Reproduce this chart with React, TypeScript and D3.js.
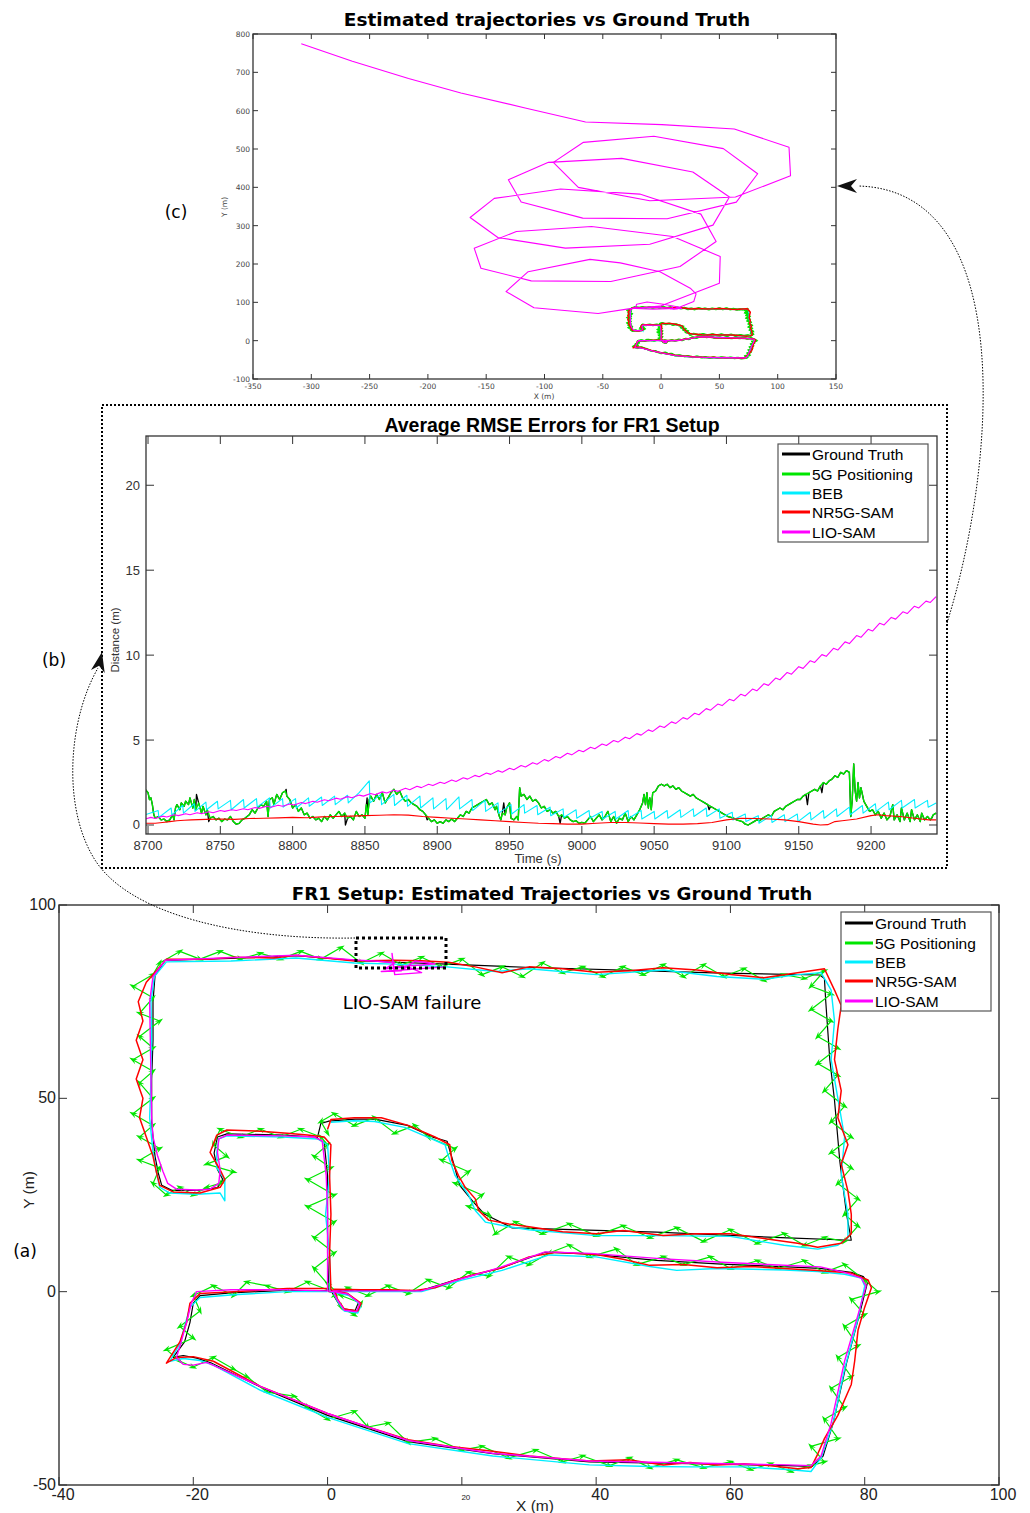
import React from 'react';
import * as d3 from 'd3';

type P = [number, number];

// ---------- Panel (a) trajectories (X m, Y m) ----------
const groundTruth: P[] = [
  [0,0.3],[-6.6,0.3],[-14.4,-0.3],[-19,-1],[-20,-3],[-20.5,-8],[-21.3,-13],[-23,-17],[-21.5,-16.5],[-19.5,-17.2],[-17.4,-18.4],
  [-9.6,-25],[0,-32],[12,-38.8],[24.6,-41.9],[39,-44],[54,-44.5],[68.5,-45],[72.2,-45.2],[73.8,-42.5],[75.3,-34],[77.3,-18.4],
  [79.2,-6],[80.4,2.3],[79.8,3.9],[78,5],[73.3,6],[68.5,6.4],[58.7,7.1],[49,8.1],[39.2,9.7],[32.4,10.2],[25.6,6],[19.7,3.4],
  [13.9,0.3],[6,0.3],[0.5,0.3],[1.2,-1.8],[2.1,-4.4],[4.1,-4.9],[4.6,-2.8],[3.1,-0.7],[0.2,0],[0,10],[0,20],[0,30],[-0.5,38.5],
  [-1.8,40],[-6.6,40.5],[-15,40.8],[-16.4,40],[-16.9,35.8],[-16.4,31.6],[-15.6,29],[-16.4,26.9],[-19.3,26.2],[-23.2,26.2],
  [-24.7,27.5],[-25.2,30.6],[-25.7,35],[-26,40],[-26.2,44],[-26.2,55],[-26,65],[-26,75],[-25.7,81.7],[-24.2,85.7],[-14.4,86.2],
  [-4.7,86.9],[4.1,85.7],[10,85.2],[17.8,84.7],[29.5,83.9],[49,82.9],[58.7,82.4],[73.3,81.9],[74,81],[74.2,75],[74.8,60],
  [75.5,49.5],[76.3,33.6],[77.3,20],[78,13.3],[68.5,13.9],[49,15.4],[27.5,16.5],[23.4,20],[21.7,23.2],[19.7,27.4],[18.7,33.6],
  [17.8,38.9],[15.8,39.9],[11.9,43],[7,44.6],[4.1,44.6],[0.2,44.1],[-1,43.5],[-1.5,39.9]
];

const fiveG: P[] = [
  [0,0.5],[-3,2.5],[-6,0],[-9,1.5],[-12,2.5],[-14,-1],[-17,1.5],[-20,-1],[-19,-5],[-22,-9],[-20,-12],[-24,-15],[-22,-18],
  [-20,-19.5],[-17,-17],[-14,-20],[-12,-22],[-9,-26],[-5,-27],[-3,-30],[0,-33],[4,-31],[6,-35],[9,-34],[12,-39],[16,-38],
  [20,-41],[23,-40],[27,-43],[31,-41],[35,-44],[38,-42.5],[42,-45],[45,-43],[48,-45.5],[52,-43.5],[56,-45.5],[60,-44],
  [63,-46],[66,-44.5],[69,-46.5],[72,-45],[74,-44],[72,-40],[76,-38],[74,-33],[77,-30],[75,-25],[78,-22],[76,-17],[79,-14],
  [77,-9],[80,-6],[78,-2],[82,0],[80,3],[77,7],[74,5],[71,8],[67,6],[64,8],[60,6],[57,9],[53,7],[50,9],[46,7],[43,11],[39,9],
  [36,12],[33,10],[30,7],[27,9],[24,4],[21,5],[18,1],[15,3],[12,-0.5],[9,1.5],[6,-1],[3,1],[1,-1],[2,-4],[4,-6],[5,-3],[2,-1],
  [0,2],[-2,6],[1,10],[-2,14],[1,18],[-3,22],[1,25],[-3,29],[0.5,32],[-2,35],[0,38],[-1,40],[-4,42],[-7,40],[-10,42],
  [-13,40],[-16,42],[-17,38],[-15,35],[-18,33],[-14,31],[-16,28],[-18,27],[-20,25],[-22,27],[-24,25],[-26,28],[-25,32],
  [-28,34],[-25,37],[-28,40],[-26,43],[-29,46],[-26,50],[-28,54],[-26,57],[-29,60],[-26,63],[-28,66],[-25,70],[-28,72],
  [-26,76],[-29,79],[-26,82],[-25,85],[-22,88],[-19,86],[-16,88],[-13,86],[-10,87.5],[-7,86],[-4,88],[-1,86],[2,89],[5,85],
  [8,87.5],[11,84.5],[14,86.5],[17,84],[20,86],[23,82],[26,84],[29,81.5],[32,85],[35,82.5],[38,84],[41,81.5],[44,84],[47,82],
  [50,84.5],[53,81.5],[56,84.5],[59,81.5],[62,83.5],[65,80.5],[68,82],[71,81],[74,83],[72,79],[75,77],[72,73],[75,70],[73,66],
  [76,63],[73,59],[76,56],[74,52],[77,48],[75,44],[78,40],[75,36],[78,32],[76,28],[79,24],[77,20],[79,17],[77,13],[74,14],
  [71,12],[68,15],[64,12.5],[60,16],[56,13],[52,16.5],[48,14],[44,17],[40,14.5],[36,17.5],[32,15],[28,18],[25,15],[24,20],
  [21,22],[23,25],[19,28],[21,31],[17,34],[19,37],[15,40],[13,43],[10,41],[7,45],[4,43],[1,46],[-1,44],[0,41]
];

const beb: P[] = [
  [0,0],[-6,0],[-14,-0.8],[-19,-1.5],[-20.5,-4],[-21.3,-9],[-22,-13.5],[-23.5,-18],[-21.5,-17.3],[-19,-17.8],[-17,-19],
  [-10,-25.5],[0,-32.5],[12,-39.3],[24.6,-42.5],[39,-44.8],[48,-45.2],[54,-45.3],[62,-45.3],[68.5,-46],[72,-46.5],[73.5,-43],
  [75.3,-34],[77,-20],[79,-7],[80,1.5],[79.5,3.5],[77,4.5],[73,5.2],[68,5.6],[58,6],[52,5.5],[48,6.5],[40,9],[33,9.5],
  [26,5.5],[20,3],[14,0],[6,0],[0.8,0],[1.5,-2.5],[2.5,-5],[4.5,-5.5],[5,-3.5],[3.2,-1],[0.4,0],[0.3,10],[-0.3,20],[0.3,30],
  [0,38],[-1.5,39.5],[-6.6,40],[-15,40.3],[-16.2,39.5],[-16.5,36],[-16.5,32],[-15.3,29],[-15.3,23.5],[-16,25.5],[-19.5,25.2],
  [-23.5,25.5],[-25,27],[-25.5,31],[-26,36],[-26.5,45],[-26.3,55],[-26.2,65],[-26.3,75],[-25.8,81.5],[-24,85.3],[-14.4,85.5],
  [-4.7,86.3],[4,85],[10,84.7],[17.8,84],[25,82.8],[30,83.5],[40,82],[50,83.2],[58,81.5],[65,80.8],[70,82],[73.5,82.5],
  [75,78],[75.5,70],[75,60],[76,50],[77,40],[76.5,30],[77.5,20],[77.5,14],[76,12],[73,11],[68,12],[60,14.3],[49,14.5],
  [40,14.5],[30,16],[27,16.8],[23.5,18],[22,21],[21,25],[19,30],[18,35],[17.5,38],[15.5,39.5],[11.5,42.5],[7,44],[4,44.2],
  [0.5,43.8]
];

const nr5gSam: P[] = [
  [0,0.8],[-6,0.8],[-14,0],[-19,-0.5],[-20.5,-3],[-21,-8],[-22,-13],[-24,-18.5],[-22.5,-17],[-20,-16.8],[-17,-18],[-10,-24.5],
  [-5,-28],[0,-31.5],[6,-35],[12,-38.3],[18,-40],[24.6,-41.3],[30,-42.5],[39,-43.8],[45,-43.5],[50,-44.8],[54,-44.2],
  [58,-44.8],[62,-44.5],[66,-45],[70,-45.8],[72,-45.5],[73,-42],[74,-38],[76,-32],[78,-24],[78.5,-18],[79,-10],[80,-4],
  [81,1],[80.5,3],[78,4.8],[73,5.5],[68,6],[63,6.5],[58,6.2],[53,7],[48,6.8],[44,8.4],[40,9.6],[34,10.2],[30,9],[26,6.2],
  [22,4.5],[19,3],[16,1],[13,0.3],[9,0.5],[5,0.5],[1,0.6],[1.5,-2],[2.5,-4.5],[4.5,-5],[5,-3],[3,-0.5],[0.5,0.5],[0.3,10],
  [0.5,20],[0.3,30],[0.5,38],[-0.5,40],[-3,40.5],[-6,41],[-10,41.5],[-15,41.8],[-16.5,40.5],[-17.5,36],[-16,31.5],[-15.3,29],
  [-16,27],[-19,25.5],[-23,25.8],[-25,27.5],[-25.5,31],[-26,35],[-27,40],[-28,45],[-27.5,50],[-28.5,55],[-27.5,60],[-28.5,65],
  [-27.5,70],[-28.2,75],[-27,80],[-25.5,83],[-24,86],[-18,86],[-14,86.5],[-8,86.3],[-4.7,87],[0,86.2],[4,85.5],[10,85.7],
  [14,85.6],[18,85.2],[22,84],[26,82.5],[30,84],[35,83.5],[40,82.6],[45,83],[50,83.8],[55,83.2],[60,82],[65,81.2],[70,82.5],
  [74,83.5],[75.5,78],[76.5,74],[76,68],[75.5,60],[76.5,52],[76,45],[77.5,38],[76.5,33],[77.5,26],[78,20],[78,15],[76.5,12.5],
  [73,11.5],[70,12.5],[66,13.5],[60,15],[55,15],[50,14.5],[44,15.8],[40,15],[35,15.5],[30,16.8],[27,17.5],[24,18.5],[22.5,21],
  [22,24],[20.5,27],[19.5,30],[18.5,34],[18.2,38],[16,40],[12,43],[8,45],[4,45],[0.5,44.5],[0,42]
];

const lioSamLocal: P[] = [
  [0,0.2],[-6.6,0.5],[-14.4,0.5],[-19.5,0],[-20.3,-3],[-21,-8],[-21.8,-13],[-22.5,-17],[-21.5,-18.8],[-20,-19],[-18,-18.3],
  [-9.6,-24.8],[0,-31.5],[12,-38.5],[24.6,-41.8],[39,-43.8],[54,-44.3],[68.5,-44.8],[72,-45],[73.5,-42.5],[75,-34],[77,-18],
  [79,-6],[80.2,1.5],[79.5,3.5],[77,5],[73.4,6.4],[58.7,7.6],[49,8.6],[39.2,9.9],[32.4,10.3],[25.6,6.2],[19.7,3.2],[13.9,0.2],
  [6,0.2],[0.8,0.2],[1.5,-2.2],[2.5,-4.8],[4.3,-5.2],[4.8,-3],[3,-0.6],[0,0.2],[0,10],[0,20],[-0.2,30],[-0.8,39],[-2,40],
  [-6.6,40.3],[-15,40.5],[-16.2,39.5],[-16.4,36],[-16,31.5],[-16.2,28],[-17.5,26.5],[-19.5,26.3],[-22.5,26.5],[-23.8,28],
  [-24.5,31],[-25.3,35],[-26,40],[-26.2,45],[-26.3,55],[-26.4,65],[-26.5,75],[-26,81.5],[-24.2,85.7],[-14.4,86.4],[-4.7,87],
  [4,85.8],[8,85.4],[10,85],[8.5,83.5],[12,84],[14,82.5],[10,82],[9.6,87.5],[9.8,84],[14,84.5],[16,84.8],[13,85.5],[11,83],
  [8,82.8],[17.5,84]
];

// ---------- Panel (c): LIO-SAM drift after failure ----------
const lioSamDrift: P[] = [
  [17.5,84],[16,87],[2,95],[-12,101],[-21,95],[-22,84],[-7,82],[13,84],[28,102],[30,122],[25,137],[-1,180],[-35,203],
  [-61,212],[-114,180],[-133,128],[-109,86],[-54,71],[-28,83],[-1,90],[50,150],[50.7,219.5],[10,271.8],[-59.7,297.9],
  [-124.1,284.8],[-160.3,241.3],[-154.5,189],[-111.4,155.9],[-43.1,154.2],[16.2,193.4],[47.2,258.7],[34.1,330.1],
  [-18.3,382.4],[-86.2,395.5],[-143.1,371.1],[-163.8,321.4],[-140,269.2],[-82.1,241.3],[-9.7,251.7],[44.5,301.4],
  [58.6,374.6],[27.2,439.9],[-33.8,475.6],[-96.6,465.2],[-131,419.9],[-120,361.5],[-67.2,319.7],[5.2,318],[64.5,361.5],
  [82.8,435.5],[53.4,500.9],[-6.2,533.1],[-66.6,517.4],[-92.4,465.2],[-71,399.8],[-9.7,365],[63.8,374.6],[111,430.3],
  [109.7,504.4],[62.8,552.3],[0.7,563.6],[-64.8,570.6],[-116.6,607.1],[-171.7,646.3],[-216.6,683.8],[-264.8,729],
  [-308.6,774.4]
];

// ---------- Panel (b): errors over time (s, m) ----------
const fiveGErr: P[] = [
  [8698,2.1],[8700,1.9],[8701,1.5],[8702,1.6],[8703,1.2],[8704,0.6],[8705,0.4],[8707,0.5],[8709,0.3],[8711,0.35],[8713,0.2],
  [8715,0.3],[8717,0.6],[8718,0.3],[8719,1.0],[8720,1.2],[8722,0.9],[8723,1.3],[8725,1.1],[8726,1.4],[8728,1.2],[8729,1.6],
  [8731,1.0],[8732,1.5],[8733,0.9],[8735,1.3],[8737,0.7],[8738,1.1],[8740,0.6],[8741,0.9],[8743,0.4],[8745,0.5],[8747,0.3],
  [8749,0.4],[8751,0.2],[8753,0.35],[8755,0.3],[8757,0.5],[8759,0.2],[8761,0.05],[8763,0.1],[8765,0.3],[8767,0.4],[8770,0.6],
  [8772,0.9],[8774,0.7],[8776,1.0],[8778,1.2],[8780,1.1],[8782,1.4],[8783,0.5],[8784,1.5],[8786,1.6],[8787,1.2],[8789,1.8],
  [8791,1.5],[8793,1.9],[8795,2.0],[8796,1.7],[8798,1.5],[8800,1.0],[8802,1.2],[8804,0.8],[8806,1.0],[8808,0.6],[8810,0.7],
  [8812,0.4],[8814,0.5],[8816,0.3],[8818,0.4],[8820,0.2],[8822,0.5],[8824,0.3],[8826,0.6],[8828,0.4],[8830,0.6],[8832,0.8],
  [8834,0.5],[8836,0.7],[8838,0.4],[8840,0.5],[8842,0.3],[8844,0.8],[8846,0.5],[8848,0.6],[8850,0.4],[8851,1.2],[8852,0.6],
  [8853,1.5],[8854,1.7],[8856,1.4],[8858,1.8],[8860,1.5],[8862,1.9],[8864,1.3],[8866,1.6],[8868,1.9],[8870,2.1],[8872,1.8],
  [8874,2.0],[8876,1.6],[8878,1.4],[8880,1.5],[8882,1.3],[8884,1.2],[8886,1.1],[8888,0.9],[8890,0.8],[8892,0.6],[8894,0.4],
  [8896,0.2],[8898,0.3],[8900,0.1],[8902,0.2],[8904,0.1],[8906,0.3],[8908,0.2],[8910,0.35],[8912,0.2],[8914,0.4],[8916,0.6],
  [8918,0.5],[8920,0.8],[8922,0.7],[8924,1.0],[8926,1.1],[8928,1.2],[8930,1.3],[8932,1.4],[8934,1.5],[8936,1.2],[8938,1.3],
  [8940,0.9],[8941,1.1],[8943,0.5],[8944,0.3],[8945,0.7],[8947,0.6],[8948,1.0],[8950,1.3],[8951,0.4],[8953,0.3],[8955,0.5],
  [8956,0.3],[8957,2.2],[8958,1.7],[8960,1.8],[8962,1.5],[8964,1.7],[8966,1.4],[8968,1.5],[8970,1.3],[8972,1.0],[8974,1.1],
  [8976,0.8],[8978,0.9],[8980,0.7],[8982,0.8],[8984,0.5],[8986,0.6],[8988,0.4],[8990,0.5],[8992,0.3],[8994,0.2],[8996,0.25],
  [8998,0.1],[9000,0.15],[9002,0.1],[9004,0.3],[9006,0.5],[9008,0.2],[9010,0.4],[9012,0.6],[9014,0.3],[9016,0.5],[9018,0.8],
  [9020,0.2],[9022,0.5],[9024,0.1],[9026,0.4],[9028,0.3],[9030,0.7],[9032,0.2],[9034,0.5],[9036,0.3],[9038,0.6],[9040,0.9],
  [9042,1.3],[9043,1.8],[9044,1.2],[9045,1.9],[9046,1.0],[9047,1.6],[9048,0.9],[9049,1.9],[9051,2.0],[9053,2.3],[9055,2.4],
  [9057,2.3],[9059,2.4],[9061,2.2],[9063,2.3],[9065,2.1],[9067,2.2],[9069,2.0],[9071,1.9],[9073,1.8],[9075,1.7],[9077,1.8],
  [9079,1.6],[9081,1.5],[9083,1.4],[9085,1.3],[9087,1.2],[9089,1.1],[9091,1.0],[9093,0.9],[9095,0.8],[9097,0.7],[9099,0.6],
  [9101,0.5],[9103,0.45],[9105,0.4],[9107,0.3],[9109,0.25],[9111,0.2],[9113,0.05],[9115,0.0],[9117,0.1],[9119,0.2],[9121,0.3],
  [9123,0.25],[9125,0.4],[9127,0.5],[9129,0.6],[9131,0.5],[9133,0.8],[9135,0.9],[9137,1.0],[9139,0.9],[9141,1.1],[9143,1.2],
  [9145,1.3],[9147,1.4],[9149,1.5],[9151,1.5],[9153,1.7],[9155,1.8],[9157,1.9],[9159,2.0],[9161,2.1],[9163,2.0],[9165,2.3],
  [9167,2.5],[9169,2.4],[9171,2.6],[9173,2.7],[9175,2.9],[9177,2.8],[9179,3.1],[9181,3.0],[9183,3.2],[9185,3.1],[9186,0.5],
  [9187,1.5],[9188,3.6],[9189,2.0],[9190,1.4],[9191,2.5],[9192,1.6],[9193,2.2],[9195,1.4],[9197,1.1],[9199,0.8],[9201,0.9],
  [9203,0.6],[9205,0.8],[9207,0.4],[9209,0.7],[9211,0.3],[9213,0.5],[9215,1.2],[9216,0.3],[9218,0.6],[9220,0.2],[9221,1.0],
  [9223,0.3],[9225,0.7],[9227,0.2],[9228,0.9],[9230,0.3],[9232,0.6],[9234,0.2],[9235,0.7],[9237,0.3],[9239,0.5],[9241,0.3],
  [9243,0.6],[9245,0.7]
];

const groundTruthSpikes: P[] = [
  [8733.5,1.8],[8742,0.2],[8795.5,2.1],[8836.5,0.0],[8851.5,1.6],[8893,0.3],[8946,1.3],[8985,0.1],[9046.5,1.4],
  [9088,0.9],[9156,1.2],[9166,1.9],[9242,0.4]
];

const bebErr: P[] = [
  [8698,0.6],[8707,0.85],[8707.5,0.45],[8716,1.0],[8716.5,0.6],[8724,1.15],[8724.5,0.7],[8732,1.25],[8732.5,0.8],[8740,1.35],
  [8740.5,0.9],[8748,1.4],[8748.5,0.95],[8757,1.45],[8757.5,0.9],[8766,1.5],[8766.5,1.0],[8775,1.55],[8775.5,1.05],[8784,1.6],
  [8784.5,1.0],[8793,1.55],[8793.5,1.05],[8802,1.55],[8802.5,1.0],[8811,1.6],[8811.5,1.1],[8820,1.65],[8820.5,1.15],
  [8829,1.7],[8829.5,1.2],[8838,1.75],[8838.5,1.3],[8846,1.9],[8853,2.6],[8853.5,1.3],[8861,1.8],[8861.5,1.2],[8870,1.8],
  [8870.5,1.15],[8879,1.75],[8879.5,1.1],[8888,1.7],[8888.5,1.0],[8897,1.6],[8897.5,0.95],[8906,1.55],[8906.5,0.9],
  [8915,1.65],[8915.5,0.95],[8924,1.5],[8924.5,0.85],[8933,1.45],[8933.5,0.8],[8942,1.3],[8942.5,0.7],[8951,1.2],
  [8951.5,0.65],[8960,1.2],[8960.5,0.7],[8969,1.15],[8969.5,0.6],[8978,1.05],[8978.5,0.55],[8987,0.95],[8987.5,0.45],
  [8996,0.9],[8996.5,0.4],[9005,0.85],[9005.5,0.4],[9014,0.8],[9014.5,0.35],[9023,0.8],[9023.5,0.35],[9032,0.85],
  [9032.5,0.4],[9041,0.85],[9041.5,0.35],[9050,0.8],[9050.5,0.35],[9059,0.85],[9059.5,0.4],[9068,0.9],[9068.5,0.45],
  [9077,0.95],[9077.5,0.5],[9086,1.0],[9086.5,0.5],[9095,0.95],[9095.5,0.4],[9104,0.75],[9104.5,0.3],[9113,0.65],
  [9113.5,0.2],[9122,0.55],[9122.5,0.1],[9131,0.55],[9131.5,0.15],[9140,0.6],[9140.5,0.2],[9149,0.65],[9149.5,0.2],
  [9158,0.75],[9158.5,0.3],[9167,0.85],[9167.5,0.4],[9176,0.95],[9176.5,0.5],[9185,1.05],[9185.5,0.6],[9194,1.15],
  [9194.5,0.7],[9203,1.25],[9203.5,0.8],[9212,1.35],[9212.5,0.9],[9221,1.45],[9221.5,1.0],[9230,1.5],[9230.5,1.0],
  [9239,1.45],[9239.5,1.05],[9245,1.3]
];

const nr5gErr: P[] = [
  [8698,0.1],[8705,0.1],[8710,0.15],[8715,0.2],[8720,0.25],[8725,0.28],[8730,0.3],[8740,0.33],[8750,0.35],[8760,0.33],
  [8770,0.38],[8780,0.4],[8790,0.42],[8800,0.45],[8810,0.43],[8820,0.48],[8830,0.5],[8840,0.52],[8850,0.55],[8860,0.57],
  [8870,0.6],[8880,0.58],[8890,0.5],[8900,0.45],[8910,0.4],[8920,0.35],[8930,0.3],[8940,0.25],[8950,0.2],[8960,0.15],
  [8970,0.1],[8980,0.08],[8990,0.05],[9000,0.05],[9010,0.1],[9020,0.15],[9030,0.15],[9040,0.12],[9050,0.08],[9060,0.05],
  [9070,0.05],[9080,0.08],[9090,0.15],[9100,0.3],[9110,0.4],[9120,0.38],[9130,0.35],[9140,0.3],[9150,0.2],[9160,0.05],
  [9165,0.0],[9170,0.02],[9175,0.2],[9180,0.25],[9190,0.35],[9200,0.55],[9205,0.6],[9210,0.55],[9220,0.5],[9230,0.4],
  [9240,0.3],[9245,0.3]
];

const lioSamErr: P[] = [
  [8698,0.35],[8702,0.45],[8705,0.38],[8710,0.52],[8713,0.47],[8718,0.6],[8721,0.55],[8726,0.66],[8729,0.6],[8734,0.72],
  [8737,0.66],[8742,0.78],[8745,0.72],[8750,0.85],[8753,0.8],[8758,0.9],[8761,0.85],[8766,0.96],[8769,0.9],[8774,1.03],
  [8777,0.98],[8782,1.1],[8785,1.04],[8790,1.16],[8793,1.1],[8798,1.24],[8801,1.18],[8806,1.32],[8809,1.26],[8814,1.4],
  [8817,1.34],[8822,1.49],[8825,1.43],[8830,1.58],[8833,1.52],[8838,1.67],[8841,1.6],[8846,1.76],[8849,1.7],[8854,1.85],
  [8857,1.78],[8862,1.95],[8865,1.88],[8870,2.05],[8873,1.98],[8878,2.16],[8881,2.08],[8886,2.28],[8889,2.2],[8894,2.4],
  [8897,2.32],[8902,2.52],[8905,2.44],[8910,2.65],[8913,2.56],[8918,2.78],[8921,2.7],[8926,2.92],[8929,2.84],[8934,3.06],
  [8937,2.98],[8942,3.2],[8945,3.11],[8950,3.34],[8953,3.25],[8958,3.5],[8961,3.41],[8966,3.67],[8969,3.58],[8974,3.85],
  [8977,3.76],[8982,4.03],[8985,3.94],[8990,4.22],[8993,4.13],[8998,4.4],[9001,4.31],[9006,4.58],[9009,4.49],[9014,4.77],
  [9017,4.68],[9022,4.97],[9025,4.88],[9030,5.17],[9033,5.08],[9038,5.38],[9041,5.29],[9046,5.6],[9049,5.51],[9054,5.83],
  [9057,5.74],[9062,6.07],[9065,5.98],[9070,6.32],[9073,6.23],[9078,6.58],[9081,6.49],[9086,6.85],[9089,6.76],[9094,7.12],
  [9097,7.03],[9102,7.4],[9105,7.31],[9110,7.7],[9113,7.6],[9118,8.0],[9121,7.9],[9126,8.32],[9129,8.22],[9134,8.65],
  [9137,8.55],[9142,8.98],[9145,8.88],[9150,9.32],[9153,9.22],[9158,9.67],[9161,9.57],[9166,10.03],[9169,9.93],[9174,10.4],
  [9177,10.3],[9182,10.78],[9185,10.68],[9190,11.15],[9193,11.05],[9198,11.52],[9201,11.42],[9206,11.88],[9209,11.78],
  [9214,12.22],[9217,12.12],[9222,12.55],[9225,12.45],[9230,12.88],[9233,12.78],[9238,13.18],[9241,13.1],[9245,13.45]
];

// ---------- Ticks & labels ----------
const seriesNames = ['Ground Truth', '5G Positioning', 'BEB', 'NR5G-SAM', 'LIO-SAM'];
const seriesColors = ['#000000', '#00e600', '#00eeff', '#ff0000', '#ff00ff'];
const xTicksA = [-40, -20, 0, 20, 40, 60, 80, 100];
const yTicksA = [-50, 0, 50, 100];
const xTicksB = [8700, 8750, 8800, 8850, 8900, 8950, 9000, 9050, 9100, 9150, 9200];
const yTicksB = [0, 5, 10, 15, 20];
const xTicksC = [-350, -300, -250, -200, -150, -100, -50, 0, 50, 100, 150];
const yTicksC = [-100, 0, 100, 200, 300, 400, 500, 600, 700, 800];

const SANS = 'Liberation Sans, Arial, sans-serif';
const DJ = 'DejaVu Sans, sans-serif';

function Markers({ pts, xs, ys, size, color }: { pts: P[]; xs: any; ys: any; size: number; color: string }) {
  return (
    <g fill={color}>
      {pts.map((p, i) => {
        if (i === 0) return null;
        const q = pts[i - 1];
        const a = (Math.atan2(ys(p[1]) - ys(q[1]), xs(p[0]) - xs(q[0])) * 180) / Math.PI;
        return (
          <path key={i} transform={`translate(${xs(p[0])},${ys(p[1])}) rotate(${a})`}
            d={`M${size},0L${-size},${-size * 0.65}L${-size * 0.3},0L${-size},${size * 0.65}Z`} />
        );
      })}
    </g>
  );
}

function Legend({ x, y, w, h, rowY }: { x: number; y: number; w: number; h: number; rowY: number[] }) {
  return (
    <g>
      <rect x={x} y={y} width={w} height={h} fill="#fff" stroke="#555" strokeWidth={1.2} />
      {seriesNames.map((n, i) => (
        <g key={n}>
          <line x1={x + 4} x2={x + 32} y1={rowY[i]} y2={rowY[i]} stroke={seriesColors[i]} strokeWidth={3} />
          <text x={x + 34} y={rowY[i] + 5.5} fontFamily={SANS} fontSize={15.5} fill="#000">{n}</text>
        </g>
      ))}
    </g>
  );
}

function Arrowhead({ x, y, angle }: { x: number; y: number; angle: number }) {
  return (
    <path transform={`translate(${x},${y}) rotate(${angle})`} d="M0,0L-20,-7L-14,0L-20,7Z" fill="#111" />
  );
}

export default function App() {
  // Panel (a)
  const xA = d3.scaleLinear().domain([-40, 100]).range([59, 999]);
  const yA = d3.scaleLinear().domain([-50, 100]).range([1485, 905]);
  const lineA = d3.line<P>().x((d) => xA(d[0])).y((d) => yA(d[1]));

  // Panel (b)
  const xB = d3.scaleLinear().domain([8698.6, 9245.6]).range([146, 937]);
  const yB = d3.scaleLinear().domain([-0.53, 22.9]).range([834, 436]);
  const lineB = d3.line<P>().x((d) => xB(d[0])).y((d) => yB(d[1]));
  const groundTruthErr = [...fiveGErr, ...groundTruthSpikes].sort((a, b) => a[0] - b[0]);

  // Panel (c)
  const xC = d3.scaleLinear().domain([-350, 150]).range([253, 836]);
  const yC = d3.scaleLinear().domain([-100, 800]).range([379, 34]);
  const lineC = d3.line<P>().x((d) => xC(d[0])).y((d) => yC(d[1]));
  const lioSamFull = [...lioSamLocal, ...lioSamDrift];

  const axisColor = '#333';

  return (
    <svg width={1030} height={1513} style={{ position: 'absolute', left: 0, top: 0, background: '#fff' }}>
      <defs>
        <clipPath id="clipA"><rect x={59} y={905} width={940} height={580} /></clipPath>
        <clipPath id="clipB"><rect x={146} y={436} width={791} height={398} /></clipPath>
        <clipPath id="clipC"><rect x={253} y={34} width={583} height={345} /></clipPath>
      </defs>
      <rect x={0} y={0} width={1030} height={1513} fill="#fff" />

      {/* ================= Panel (c) ================= */}
      <text x={547} y={26} textAnchor="middle" fontFamily={DJ} fontWeight="bold" fontSize={18.5}>Estimated trajectories vs Ground Truth</text>
      <g clipPath="url(#clipC)" fill="none" strokeLinejoin="round">
        <path d={lineC(groundTruth) || ''} stroke={seriesColors[0]} strokeWidth={1} />
        <path d={lineC(fiveG) || ''} stroke={seriesColors[1]} strokeWidth={2} />
        <Markers pts={fiveG} xs={xC} ys={yC} size={1.8} color={seriesColors[1]} />
        <path d={lineC(beb) || ''} stroke={seriesColors[2]} strokeWidth={1} />
        <path d={lineC(nr5gSam) || ''} stroke={seriesColors[3]} strokeWidth={1.5} />
        <path d={lineC(lioSamFull) || ''} stroke={seriesColors[4]} strokeWidth={1.1} />
      </g>
      <rect x={253} y={34} width={583} height={345} fill="none" stroke={axisColor} strokeWidth={1.3} />
      {xTicksC.map((t) => (
        <g key={t}>
          <line x1={xC(t)} x2={xC(t)} y1={379} y2={374} stroke={axisColor} />
          <line x1={xC(t)} x2={xC(t)} y1={34} y2={39} stroke={axisColor} />
          <text x={xC(t)} y={389} textAnchor="middle" fontFamily={DJ} fontSize={7.5} fill="#444">{t}</text>
        </g>
      ))}
      {yTicksC.map((t) => (
        <g key={t}>
          <line x1={253} x2={258} y1={yC(t)} y2={yC(t)} stroke={axisColor} />
          <line x1={836} x2={831} y1={yC(t)} y2={yC(t)} stroke={axisColor} />
          <text x={250} y={yC(t) + 3} textAnchor="end" fontFamily={DJ} fontSize={7.5} fill="#444">{t}</text>
        </g>
      ))}
      <text x={544} y={399} textAnchor="middle" fontFamily={DJ} fontSize={7.5} fill="#444">X (m)</text>
      <text transform="translate(227,207) rotate(-90)" textAnchor="middle" fontFamily={DJ} fontSize={7.5} fill="#444">Y (m)</text>
      <text x={176} y={218} textAnchor="middle" fontFamily={DJ} fontSize={17}>(c)</text>

      {/* ================= Panel (b) ================= */}
      <rect x={102} y={405} width={845} height={463} fill="none" stroke="#000" strokeWidth={2} strokeDasharray="2,2" />
      <text x={552} y={432} textAnchor="middle" fontFamily={SANS} fontWeight="bold" fontSize={19.5}>Average RMSE Errors for FR1 Setup</text>
      <g clipPath="url(#clipB)" fill="none" strokeLinejoin="round">
        <path d={lineB(groundTruthErr) || ''} stroke={seriesColors[0]} strokeWidth={1.3} />
        <path d={lineB(fiveGErr) || ''} stroke={seriesColors[1]} strokeWidth={1.4} />
        <path d={lineB(bebErr) || ''} stroke={seriesColors[2]} strokeWidth={1.1} />
        <path d={lineB(nr5gErr) || ''} stroke={seriesColors[3]} strokeWidth={1.1} />
        <path d={lineB(lioSamErr) || ''} stroke={seriesColors[4]} strokeWidth={1.1} />
      </g>
      <rect x={146} y={436} width={791} height={398} fill="none" stroke={axisColor} strokeWidth={1.3} />
      {xTicksB.map((t) => (
        <g key={t}>
          <line x1={xB(t)} x2={xB(t)} y1={834} y2={826} stroke={axisColor} />
          <line x1={xB(t)} x2={xB(t)} y1={436} y2={444} stroke={axisColor} />
          <text x={xB(t)} y={850} textAnchor="middle" fontFamily={SANS} fontSize={13} fill="#333">{t}</text>
        </g>
      ))}
      {yTicksB.map((t) => (
        <g key={t}>
          <line x1={146} x2={154} y1={yB(t)} y2={yB(t)} stroke={axisColor} />
          <line x1={937} x2={929} y1={yB(t)} y2={yB(t)} stroke={axisColor} />
          <text x={140} y={yB(t) + 4.5} textAnchor="end" fontFamily={SANS} fontSize={13} fill="#333">{t}</text>
        </g>
      ))}
      <text x={538} y={863} textAnchor="middle" fontFamily={SANS} fontSize={13} fill="#333">Time (s)</text>
      <text transform="translate(119,640) rotate(-90)" textAnchor="middle" fontFamily={SANS} fontSize={11.5} fill="#333">Distance (m)</text>
      <Legend x={778} y={444} w={150} h={98} rowY={[454, 474, 493, 512, 532]} />
      <text x={54} y={666} textAnchor="middle" fontFamily={DJ} fontSize={17}>(b)</text>

      {/* ================= Panel (a) ================= */}
      <text x={552} y={900} textAnchor="middle" fontFamily={DJ} fontWeight="bold" fontSize={18.2}>FR1 Setup: Estimated Trajectories vs Ground Truth</text>
      <g clipPath="url(#clipA)" fill="none" strokeLinejoin="round">
        <path d={lineA(groundTruth) || ''} stroke={seriesColors[0]} strokeWidth={1.2} />
        <path d={lineA(fiveG) || ''} stroke={seriesColors[1]} strokeWidth={1.2} />
        <Markers pts={fiveG} xs={xA} ys={yA} size={4.2} color={seriesColors[1]} />
        <path d={lineA(beb) || ''} stroke={seriesColors[2]} strokeWidth={1.4} />
        <path d={lineA(nr5gSam) || ''} stroke={seriesColors[3]} strokeWidth={1.5} />
        <path d={lineA(lioSamLocal) || ''} stroke={seriesColors[4]} strokeWidth={1.4} />
      </g>
      <rect x={59} y={905} width={940} height={580} fill="none" stroke={axisColor} strokeWidth={1.4} />
      {xTicksA.map((t) => (
        <g key={t}>
          <line x1={xA(t)} x2={xA(t)} y1={1485} y2={1477} stroke={axisColor} />
          <line x1={xA(t)} x2={xA(t)} y1={905} y2={913} stroke={axisColor} />
          <text x={xA(t) + 4} y={1500} textAnchor="middle" fontFamily={SANS}
            fontSize={t === 20 ? 8 : 16} fill="#222">{t}</text>
        </g>
      ))}
      {yTicksA.map((t) => (
        <g key={t}>
          <line x1={59} x2={67} y1={yA(t)} y2={yA(t)} stroke={axisColor} />
          <line x1={999} x2={991} y1={yA(t)} y2={yA(t)} stroke={axisColor} />
          <text x={56} y={yA(t) + 5} textAnchor="end" fontFamily={SANS} fontSize={16} fill="#222">{t}</text>
        </g>
      ))}
      <text x={535} y={1511} textAnchor="middle" fontFamily={SANS} fontSize={15.5} fill="#222">X (m)</text>
      <text transform="translate(34,1190) rotate(-90)" textAnchor="middle" fontFamily={SANS} fontSize={15.5} fill="#222">Y (m)</text>
      <Legend x={841} y={912} w={150} h={99} rowY={[923, 943, 962, 981, 1001]} />
      <text x={25} y={1257} textAnchor="middle" fontFamily={DJ} fontSize={17}>(a)</text>

      {/* LIO-SAM failure box */}
      <rect x={356} y={938} width={90} height={30} fill="none" stroke="#000" strokeWidth={3} strokeDasharray="3,3" />
      <text x={412} y={1009} textAnchor="middle" fontFamily={DJ} fontSize={18}>LIO-SAM failure</text>

      {/* Connector arrows */}
      <path d="M947,623 C995,470 1020,190 858,186" fill="none" stroke="#000" strokeWidth={1} strokeDasharray="1.5,1.5" />
      <Arrowhead x={837} y={186} angle={180} />
      <path d="M355,938 C240,940 130,915 95,860 C62,808 68,720 98,668" fill="none" stroke="#000" strokeWidth={1} strokeDasharray="1.5,1.5" />
      <Arrowhead x={102} y={652} angle={-78} />
    </svg>
  );
}
